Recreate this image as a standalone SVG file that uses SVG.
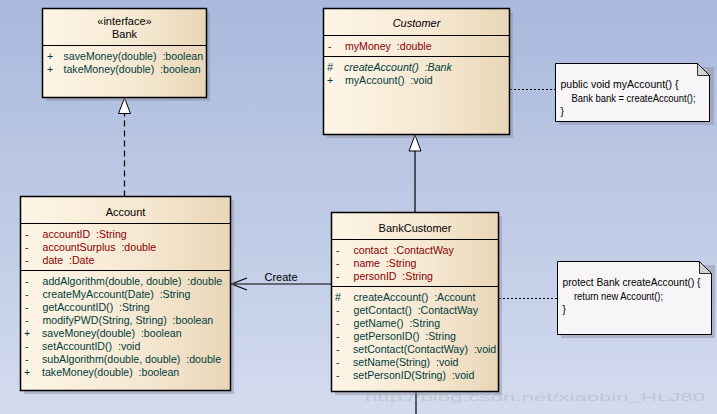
<svg xmlns="http://www.w3.org/2000/svg" width="717" height="414" viewBox="0 0 717 414">
<defs>
<linearGradient id="bg" x1="0" y1="0" x2="0" y2="1">
<stop offset="0" stop-color="#a9b9dd"/>
<stop offset="1" stop-color="#d3dbee"/>
</linearGradient>
<linearGradient id="cls" x1="0" y1="0" x2="1" y2="0">
<stop offset="0" stop-color="#fdf5e6"/>
<stop offset="0.55" stop-color="#f6e9d3"/>
<stop offset="1" stop-color="#e9d6b7"/>
</linearGradient>
<style>
text{font-family:"Liberation Sans",Arial,sans-serif;font-size:10.6px;white-space:pre;}
.box{fill:url(#cls);stroke:#000;stroke-width:1.5;}
.shadow{fill:#8c8c98;opacity:0.45;}
.sep{stroke:#000;stroke-width:1.2;}
.t{fill:#000;text-anchor:middle;font-size:11px;}
.a{fill:#8b0000;}
.m{fill:#003c3c;}
.note{fill:#f7f5f8;stroke:#000;stroke-width:1;}
.fold{fill:#d4d4d4;stroke:#000;stroke-width:0.8;}
.nt{fill:#000;font-size:10.2px;}
.ln{stroke:#000;stroke-width:1.2;fill:none;}
.dot{stroke:#000;stroke-width:1.2;fill:none;stroke-dasharray:2,2;}
.dash{stroke:#000;stroke-width:1.2;fill:none;stroke-dasharray:6,4;}
</style>
</defs>
<rect x="0" y="0" width="717" height="414" fill="url(#bg)"/>

<g id="connectors">
<path class="dash" d="M124.5,196.5 V113"/>
<path d="M124.5,98 L118.5,113.5 H130.5 Z" fill="#fff" stroke="#000" stroke-width="1"/>
<path class="ln" d="M415,212 V151"/>
<path d="M415,135 L409,151 H421 Z" fill="#fff" stroke="#000" stroke-width="1"/>
<path class="ln" d="M331,284 H231"/>
<path class="ln" d="M247,278 L231.5,284 L247,290"/>
<text x="281" y="281" class="t">Create</text>
<path class="dot" d="M510,89.5 H555"/>
<path class="dot" d="M499,298.5 H557"/>
<path class="ln" d="M416,392 V414"/>
</g>

<g id="Bank">
<rect class="shadow" x="46" y="12" width="164" height="89"/>
<rect class="box" x="42.5" y="8.5" width="164" height="89"/>
<line class="sep" x1="42.5" y1="45.5" x2="206.5" y2="45.5"/>
<text x="124.5" y="25" class="t" font-size="10">«interface»</text>
<text x="124.5" y="38" class="t">Bank</text>
<text x="47" y="60" class="m">+</text><text x="63.5" y="60" class="m">saveMoney(double)  :boolean</text>
<text x="47" y="73" class="m">+</text><text x="63.5" y="73" class="m">takeMoney(double)  :boolean</text>
</g>

<g id="Customer">
<rect class="shadow" x="327" y="12" width="186" height="126"/>
<rect class="box" x="323.5" y="8.5" width="186" height="126"/>
<line class="sep" x1="323.5" y1="35.5" x2="509.5" y2="35.5"/>
<line class="sep" x1="323.5" y1="56.5" x2="509.5" y2="56.5"/>
<text x="416.5" y="27" class="t" font-style="italic">Customer</text>
<text x="328" y="50" class="a">-</text><text x="345" y="50" class="a">myMoney  :double</text>
<text x="327" y="71" class="m" font-style="italic">#</text><text x="344" y="71" class="m" font-style="italic">createAccount()  :Bank</text>
<text x="327" y="84" class="m">+</text><text x="345" y="84" class="m">myAccount()  :void</text>
</g>

<g id="Note1">
<path class="shadow" d="M559,67 H714 V125 H559 Z"/>
<path class="note" d="M555.5,63.5 H697.5 L709.5,75.5 V121.5 H555.5 Z"/>
<path class="fold" d="M697.5,63.5 V75.5 H709.5 Z"/>
<text x="560.5" y="88" class="nt" textLength="118" lengthAdjust="spacingAndGlyphs">public void myAccount() {</text>
<text x="571.5" y="102" class="nt" textLength="124" lengthAdjust="spacingAndGlyphs">Bank bank = createAccount();</text>
<text x="560.5" y="115" class="nt">}</text>
</g>

<g id="Account">
<rect class="shadow" x="24" y="200" width="210" height="194"/>
<rect class="box" x="20.5" y="196.5" width="210" height="194"/>
<line class="sep" x1="20.5" y1="223.5" x2="230.5" y2="223.5"/>
<line class="sep" x1="20.5" y1="270.5" x2="230.5" y2="270.5"/>
<text x="125.5" y="216" class="t">Account</text>
<text x="25" y="238" class="a">-</text><text x="42.5" y="238" class="a">accountID  :String</text>
<text x="25" y="251" class="a">-</text><text x="42.5" y="251" class="a">accountSurplus  :double</text>
<text x="25" y="264" class="a">-</text><text x="42.5" y="264" class="a">date  :Date</text>
<text x="25" y="285" class="m">-</text><text x="42.5" y="285" class="m">addAlgorithm(double, double)  :double</text>
<text x="25" y="298" class="m">-</text><text x="42.5" y="298" class="m">createMyAccount(Date)  :String</text>
<text x="25" y="311" class="m">-</text><text x="42.5" y="311" class="m">getAccountID()  :String</text>
<text x="25" y="324" class="m">-</text><text x="42.5" y="324" class="m">modifyPWD(String, String)  :boolean</text>
<text x="24" y="337" class="m">+</text><text x="42" y="337" class="m">saveMoney(double)  :boolean</text>
<text x="25" y="350" class="m">-</text><text x="42" y="350" class="m">setAccountID()  :void</text>
<text x="25" y="363" class="m">-</text><text x="42" y="363" class="m">subAlgorithm(double, double)  :double</text>
<text x="24" y="376" class="m">+</text><text x="42" y="376" class="m">takeMoney(double)  :boolean</text>
</g>

<g id="BankCustomer">
<rect class="shadow" x="335" y="216" width="167" height="179"/>
<rect class="box" x="331.5" y="212.5" width="167" height="179"/>
<line class="sep" x1="331.5" y1="239.5" x2="498.5" y2="239.5"/>
<line class="sep" x1="331.5" y1="286.5" x2="498.5" y2="286.5"/>
<text x="415" y="232" class="t">BankCustomer</text>
<text x="336" y="254" class="a">-</text><text x="353.5" y="254" class="a">contact  :ContactWay</text>
<text x="336" y="267" class="a">-</text><text x="353.5" y="267" class="a">name  :String</text>
<text x="336" y="280" class="a">-</text><text x="353.5" y="280" class="a">personID  :String</text>
<text x="335" y="301" class="m">#</text><text x="353.5" y="301" class="m">createAccount()  :Account</text>
<text x="336" y="314" class="m">-</text><text x="353.5" y="314" class="m">getContact()  :ContactWay</text>
<text x="336" y="327" class="m">-</text><text x="353.5" y="327" class="m">getName()  :String</text>
<text x="336" y="340" class="m">-</text><text x="353.5" y="340" class="m">getPersonID()  :String</text>
<text x="336" y="353" class="m">-</text><text x="353" y="353" class="m">setContact(ContactWay)  :void</text>
<text x="336" y="366" class="m">-</text><text x="353" y="366" class="m">setName(String)  :void</text>
<text x="336" y="379" class="m">-</text><text x="353" y="379" class="m">setPersonID(String)  :void</text>
</g>

<g id="Note2">
<path class="shadow" d="M561,265 H715 V338 H561 Z"/>
<path class="note" d="M557.5,261.5 H699.5 L711.5,273.5 V334.5 H557.5 Z"/>
<path class="fold" d="M699.5,261.5 V273.5 H711.5 Z"/>
<text x="562.5" y="286" class="nt" textLength="138" lengthAdjust="spacingAndGlyphs">protect Bank createAccount() {</text>
<text x="574" y="300" class="nt" textLength="89" lengthAdjust="spacingAndGlyphs">return new Account();</text>
<text x="562.5" y="313" class="nt">}</text>
</g>

<text x="365" y="401" font-family="Liberation Serif,serif" font-size="20" fill="#9a9aa0" opacity="0.3" textLength="340" lengthAdjust="spacingAndGlyphs">http://blog.csdn.net/xiaobin_HLJ80</text>
</svg>
